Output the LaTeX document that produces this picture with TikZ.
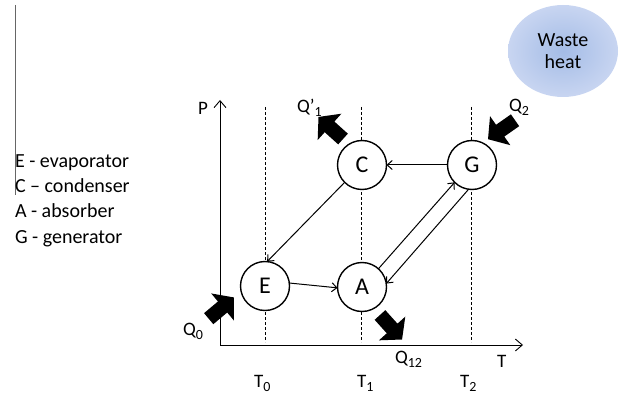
\documentclass[tikz,border=0pt]{standalone}
\usepackage{fontspec}
\setmainfont{Carlito}
\usetikzlibrary{arrows.meta,shapes.arrows,shapes.geometric}
% lowered index, as in Q_0, T_1 ...
\newcommand{\lowidx}[1]{\raisebox{-4pt}{\fontsize{14pt}{14pt}\selectfont #1}}
\definecolor{wasteIn}{RGB}{164,188,230}
\definecolor{wasteOut}{RGB}{200,213,241}
\begin{document}
\begin{tikzpicture}[x=1pt,y=-1pt,
  every node/.style={inner sep=0pt,outer sep=0pt},
  unit/.style={circle,draw,line width=1.4pt,fill=white,minimum size=49pt,
    font=\fontsize{24pt}{24pt}\selectfont},
  flow/.style={line width=1pt,-{Straight Barb[length=5pt,width=9pt]}},
  axis/.style={line width=0.9pt,-{Straight Barb[length=7pt,width=12pt]}},
  level/.style={dash pattern=on 3pt off 2pt,line width=0.6pt},
  heat/.style={single arrow,fill=black,inner sep=7pt,minimum height=33pt,minimum width=35pt,
    single arrow head extend=10.5pt,single arrow tip angle=100},
  lbl/.style={anchor=base west,font=\fontsize{19pt}{19pt}\selectfont},
  legend/.style={anchor=base west,font=\fontsize{20pt}{20pt}\selectfont}]
\useasboundingbox (0,0) rectangle (628,395);

% legend with its margin rule
\coordinate (ruleTop) at (15,5);
\coordinate (ruleBot) at (15,195);
\draw[gray!80!black,line width=0.8pt] (ruleTop) -- (ruleBot);
\node[legend] (legE) at (15,168) {E - evaporator};
\node[legend] (legC) at (15,193) {C – condenser};
\node[legend] (legA) at (15,218) {A - absorber};
\node[legend] (legG) at (15,243) {G - generator};

% waste heat source
\node[ellipse,minimum width=110pt,minimum height=92pt,inner color=wasteIn,outer color=wasteOut,
  align=center,font=\fontsize{20pt}{22pt}\selectfont] (waste) at (563,51) {Waste\\heat};

% axes
\coordinate (O) at (220,345);
\coordinate (Ptop) at (220,100);
\coordinate (Tend) at (523,345);
\draw[axis] (O) -- (Ptop);
\draw[axis] (O) -- (Tend);
\node[lbl] (Plab) at (198,115) {P};
\node[lbl] (Tlab) at (497,367) {T};

% temperature levels
\foreach \x/\n in {265.7/0,361/1,471.5/2}{
  \coordinate (lev\n top) at (\x,107);
  \coordinate (lev\n bot) at (\x,342);
  \draw[level] (lev\n top) -- (lev\n bot);
}
\node[lbl] (T0) at (254,387) {T\lowidx{0}};
\node[lbl] (T1) at (357,387) {T\lowidx{1}};
\node[lbl] (T2) at (460,387) {T\lowidx{2}};

% components
\node[unit] (C) at (362,165) {C};
\node[unit] (G) at (472,165) {G};
\node[unit] (E) at (265,286) {E};
\node[unit] (A) at (362,287) {A};

% working fluid flows
\draw[flow] (G.west) -- (C.east);
\draw[flow] (C.225) -- (E.85);
\draw[flow] (E.7) -- (A.182);
\draw[flow] (A.48) -- (G.225);
\draw[flow] (G.262) -- (A.8);

% heat exchanged with the surroundings
\node[heat,rotate=138] (q1) at (333,130) {};
\node[heat,rotate=215] (q2) at (504,128) {};
\node[heat,rotate=40] (q0) at (219,310) {};
\node[heat,rotate=-48] (q12) at (389,325) {};
\node[lbl] (q1lab) at (297,113) {Q’\lowidx{1}};
\node[lbl] (q2lab) at (509,112) {Q\lowidx{2}};
\node[lbl] (q0lab) at (183,335) {Q\lowidx{0}};
\node[lbl] (q12lab) at (395,363) {Q\lowidx{12}};
\end{tikzpicture}
\end{document}
